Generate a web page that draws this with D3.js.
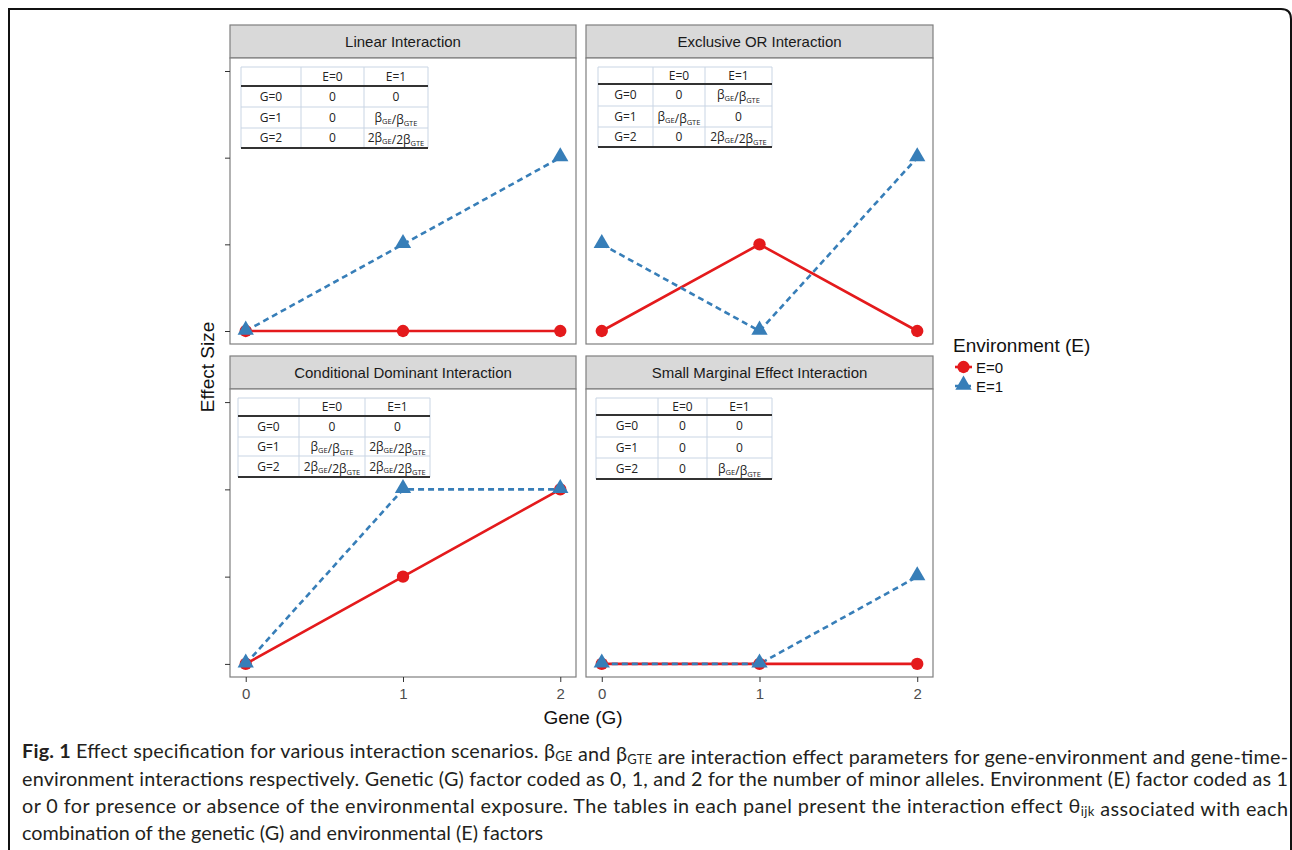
<!DOCTYPE html>
<html>
<head>
<meta charset="utf-8">
<script src="https://cdn.jsdelivr.net/npm/d3@7"></script>
<style>
  body { margin: 0; background: #fff; }
  svg { display: block; }
</style>
</head>
<body>
<div id="chart"></div>
<script>
// data
const geneLevels = [0, 1, 2];
const envLevels = ["E=0", "E=1"];
const panelTitles = ["Linear Interaction", "Exclusive OR Interaction",
  "Conditional Dominant Interaction", "Small Marginal Effect Interaction"];
const e0Values = [[0, 0, 0], [0, 1, 0], [0, 1, 2], [0, 0, 0]];
const e1Values = [[0, 1, 2], [1, 0, 2], [0, 2, 2], [0, 0, 1]];
const yTicks = [0, 1, 2, 3];
// table cells: "b" = βGE/βGTE, "2b" = 2βGE/2βGTE
const tableRowLabels = ["G=0", "G=1", "G=2"];
const tableE0 = [["0", "0", "0"], ["0", "b", "0"], ["0", "b", "2b"], ["0", "0", "0"]];
const tableE1 = [["0", "b", "2b"], ["b", "0", "2b"], ["0", "2b", "2b"], ["0", "0", "b"]];
const captionLines = [
  "Effect specification for various interaction scenarios. {β|GE} and {β|GTE} are interaction effect parameters for gene-environment and gene-time-",
  "environment interactions respectively. Genetic (G) factor coded as 0, 1, and 2 for the number of minor alleles. Environment (E) factor coded as 1",
  "or 0 for presence or absence of the environmental exposure. The tables in each panel present the interaction effect {θ|ijk} associated with each",
  "combination of the genetic (G) and environmental (E) factors"
];

const W = 1292, H = 850;
const red = "#E41A1C", blue = "#377EB8";
const gray = "#7f7f7f";
const font = "'Liberation Sans', Arial, sans-serif";

const svg = d3.select("#chart").append("svg")
  .attr("width", W).attr("height", H);

// figure frame
svg.append("path")
  .attr("d", "M9,870 V9 H1281 Q1291,9 1291,19 V870")
  .attr("fill", "none").attr("stroke", "#111").attr("stroke-width", 2);

// panel layout
const colX = [230, 586], colW = [346, 347];
const rowY = [25, 356], stripH = 33, plotH = [286, 288];
// table layout per panel: left offset, column widths, row heights
const tabLayout = [
  { dx: 11, w: [60, 63, 64], rh: [19, 21, 21, 20] },
  { dx: 12, w: [55, 52, 67], rh: [17, 22, 21, 20] },
  { dx: 8,  w: [61, 66, 65], rh: [18, 21, 19, 21] },
  { dx: 10, w: [62, 49, 65], rh: [17, 22, 21, 21] }
];

function cellText(sel, v) {
  const sub = (base, s) => {
    sel.append("tspan").text(base);
    sel.append("tspan").attr("font-size", "7.5px").attr("dy", 2).text(s);
    sel.append("tspan").attr("dy", -2).text("");
  };
  if (v === "b") { sub("β", "GE"); sel.append("tspan").text("/"); sub("β", "GTE"); }
  else if (v === "2b") { sub("2β", "GE"); sel.append("tspan").text("/"); sub("2β", "GTE"); }
  else sel.text(v);
}

panelTitles.forEach((title, i) => {
  const c = i % 2, r = Math.floor(i / 2);
  const px = colX[c], pw = colW[c];
  const top = rowY[r] + stripH, ph = plotH[r];
  const x = d3.scaleLinear().domain([-0.1, 2.1]).range([px, px + pw]);
  const y = d3.scaleLinear().domain([-0.15, 3.15]).range([top + ph, top]);
  const g = svg.append("g");

  // strip
  g.append("rect").attr("x", px).attr("y", rowY[r]).attr("width", pw).attr("height", stripH)
    .attr("fill", "#d9d9d9").attr("stroke", gray).attr("stroke-width", 1.2);
  g.append("text").attr("x", px + pw / 2).attr("y", rowY[r] + stripH / 2 + 5.5)
    .attr("text-anchor", "middle").attr("font-family", font).attr("font-size", "15px")
    .attr("fill", "#1a1a1a").text(title);

  // panel
  g.append("rect").attr("x", px).attr("y", top).attr("width", pw).attr("height", ph)
    .attr("fill", "#fff").attr("stroke", gray).attr("stroke-width", 1.2);

  // axes
  if (c === 0) {
    const ay = g.append("g").attr("transform", `translate(${px},0)`)
      .call(d3.axisLeft(y).tickValues(yTicks).tickSize(5).tickFormat(""));
    ay.select(".domain").remove();
    ay.selectAll(".tick line").attr("stroke", "#333").attr("stroke-width", 1);
  }
  if (r === 1) {
    const ax = g.append("g").attr("transform", `translate(0,${top + ph})`)
      .call(d3.axisBottom(x).tickValues(geneLevels).tickSize(5).tickFormat(d3.format("d")));
    ax.select(".domain").remove();
    ax.selectAll(".tick line").attr("stroke", "#333");
    ax.selectAll(".tick text").attr("font-family", font).attr("font-size", "15px")
      .attr("fill", "#4d4d4d").attr("dy", "0.9em");
  }

  // table
  const tl = tabLayout[i];
  const tx0 = px + tl.dx, ty0 = top + 9;
  const tw = d3.sum(tl.w);
  const colEdges = [tx0, tx0 + tl.w[0], tx0 + tl.w[0] + tl.w[1], tx0 + tw];
  const rowEdges = [ty0];
  tl.rh.forEach(h => rowEdges.push(rowEdges[rowEdges.length - 1] + h));
  const tg = g.append("g").attr("font-family", "'Open Sans', sans-serif").attr("font-size", "12px")
    .attr("fill", "#222");
  tg.append("rect").attr("x", tx0).attr("y", ty0).attr("width", tw).attr("height", rowEdges[4] - ty0)
    .attr("fill", "#fff");
  // grid
  colEdges.forEach(cx => tg.append("line").attr("x1", cx).attr("x2", cx)
    .attr("y1", ty0).attr("y2", rowEdges[4]).attr("stroke", "#c9d5e4").attr("stroke-width", 1));
  rowEdges.forEach((ry, k) => tg.append("line").attr("x1", tx0).attr("x2", tx0 + tw)
    .attr("y1", ry).attr("y2", ry)
    .attr("stroke", (k === 1 || k === 4) ? "#333" : "#c9d5e4")
    .attr("stroke-width", (k === 1 || k === 4) ? 2 : 1));
  const mid = k => (colEdges[k] + colEdges[k + 1]) / 2;
  const rmid = k => (rowEdges[k] + rowEdges[k + 1]) / 2 + 4;
  envLevels.forEach((e, k) => tg.append("text").attr("x", mid(k + 1)).attr("y", rmid(0))
    .attr("text-anchor", "middle").text(e));
  tableRowLabels.forEach((lab, k) => {
    tg.append("text").attr("x", mid(0)).attr("y", rmid(k + 1)).attr("text-anchor", "middle").text(lab);
    cellText(tg.append("text").attr("x", mid(1)).attr("y", rmid(k + 1)).attr("text-anchor", "middle"), tableE0[i][k]);
    cellText(tg.append("text").attr("x", mid(2)).attr("y", rmid(k + 1)).attr("text-anchor", "middle"), tableE1[i][k]);
  });

  // lines
  const line = d3.line().x((d, k) => x(geneLevels[k])).y(d => y(d));
  g.append("path").datum(e0Values[i]).attr("d", line).attr("fill", "none")
    .attr("stroke", red).attr("stroke-width", 2.6);
  g.append("path").datum(e1Values[i]).attr("d", line).attr("fill", "none")
    .attr("stroke", blue).attr("stroke-width", 2.6).attr("stroke-dasharray", "6,4");
  // points
  g.selectAll(".p0").data(e0Values[i]).enter().append("path")
    .attr("d", d3.symbol(d3.symbolCircle, 120))
    .attr("transform", (d, k) => `translate(${x(geneLevels[k])},${y(d)})`)
    .attr("fill", red);
  g.selectAll(".p1").data(e1Values[i]).enter().append("path")
    .attr("d", d3.symbol(d3.symbolTriangle, 115))
    .attr("transform", (d, k) => `translate(${x(geneLevels[k])},${y(d) - 1})`)
    .attr("fill", blue);
});

// axis titles
svg.append("text").attr("transform", "translate(214,367) rotate(-90)")
  .attr("text-anchor", "middle").attr("font-family", font).attr("font-size", "19px")
  .attr("fill", "#111").text("Effect Size");
svg.append("text").attr("x", 583).attr("y", 724)
  .attr("text-anchor", "middle").attr("font-family", font).attr("font-size", "19px")
  .attr("fill", "#111").text("Gene (G)");

// legend
const lg = svg.append("g").attr("font-family", font);
lg.append("text").attr("x", 953).attr("y", 352).attr("font-size", "19px").attr("fill", "#111")
  .text("Environment (E)");
envLevels.forEach((e, k) => {
  const ly = 367 + k * 19;
  if (k === 0) {
    lg.append("line").attr("x1", 955).attr("x2", 972).attr("y1", ly).attr("y2", ly)
      .attr("stroke", red).attr("stroke-width", 2.6);
    lg.append("path").attr("d", d3.symbol(d3.symbolCircle, 120))
      .attr("transform", `translate(963.5,${ly})`).attr("fill", red);
  } else {
    lg.append("line").attr("x1", 955).attr("x2", 972).attr("y1", ly).attr("y2", ly)
      .attr("stroke", blue).attr("stroke-width", 2.6).attr("stroke-dasharray", "6,4");
    lg.append("path").attr("d", d3.symbol(d3.symbolTriangle, 115))
      .attr("transform", `translate(963.5,${ly - 1})`).attr("fill", blue);
  }
  lg.append("text").attr("x", 976).attr("y", ly + 5.5).attr("font-size", "15px")
    .attr("fill", "#111").text(e);
});

// caption
const capY = [758, 785.5, 813, 840];
const capRight = 1288;
captionLines.forEach((ln, k) => {
  const t = svg.append("text").attr("x", 22).attr("y", capY[k])
    .attr("font-family", "Lato, 'Open Sans', sans-serif").attr("font-size", "19.8px")
    .attr("fill", "#231f20");
  if (k === 0) t.append("tspan").attr("font-weight", "bold").text("Fig. 1 ");
  ln.split(/(\{[^}]*\})/).forEach(part => {
    const m = part.match(/^\{(.*)\|(.*)\}$/);
    if (m) {
      t.append("tspan").text(m[1]);
      t.append("tspan").attr("font-size", "13px").attr("dy", 3).text(m[2]);
      t.append("tspan").attr("dy", -3).text("");
    } else if (part) t.append("tspan").text(part);
  });
  if (k < 3) {
    t.attr("textLength", capRight - 22).attr("lengthAdjust", "spacing");
  }
});
</script>
</body>
</html>
